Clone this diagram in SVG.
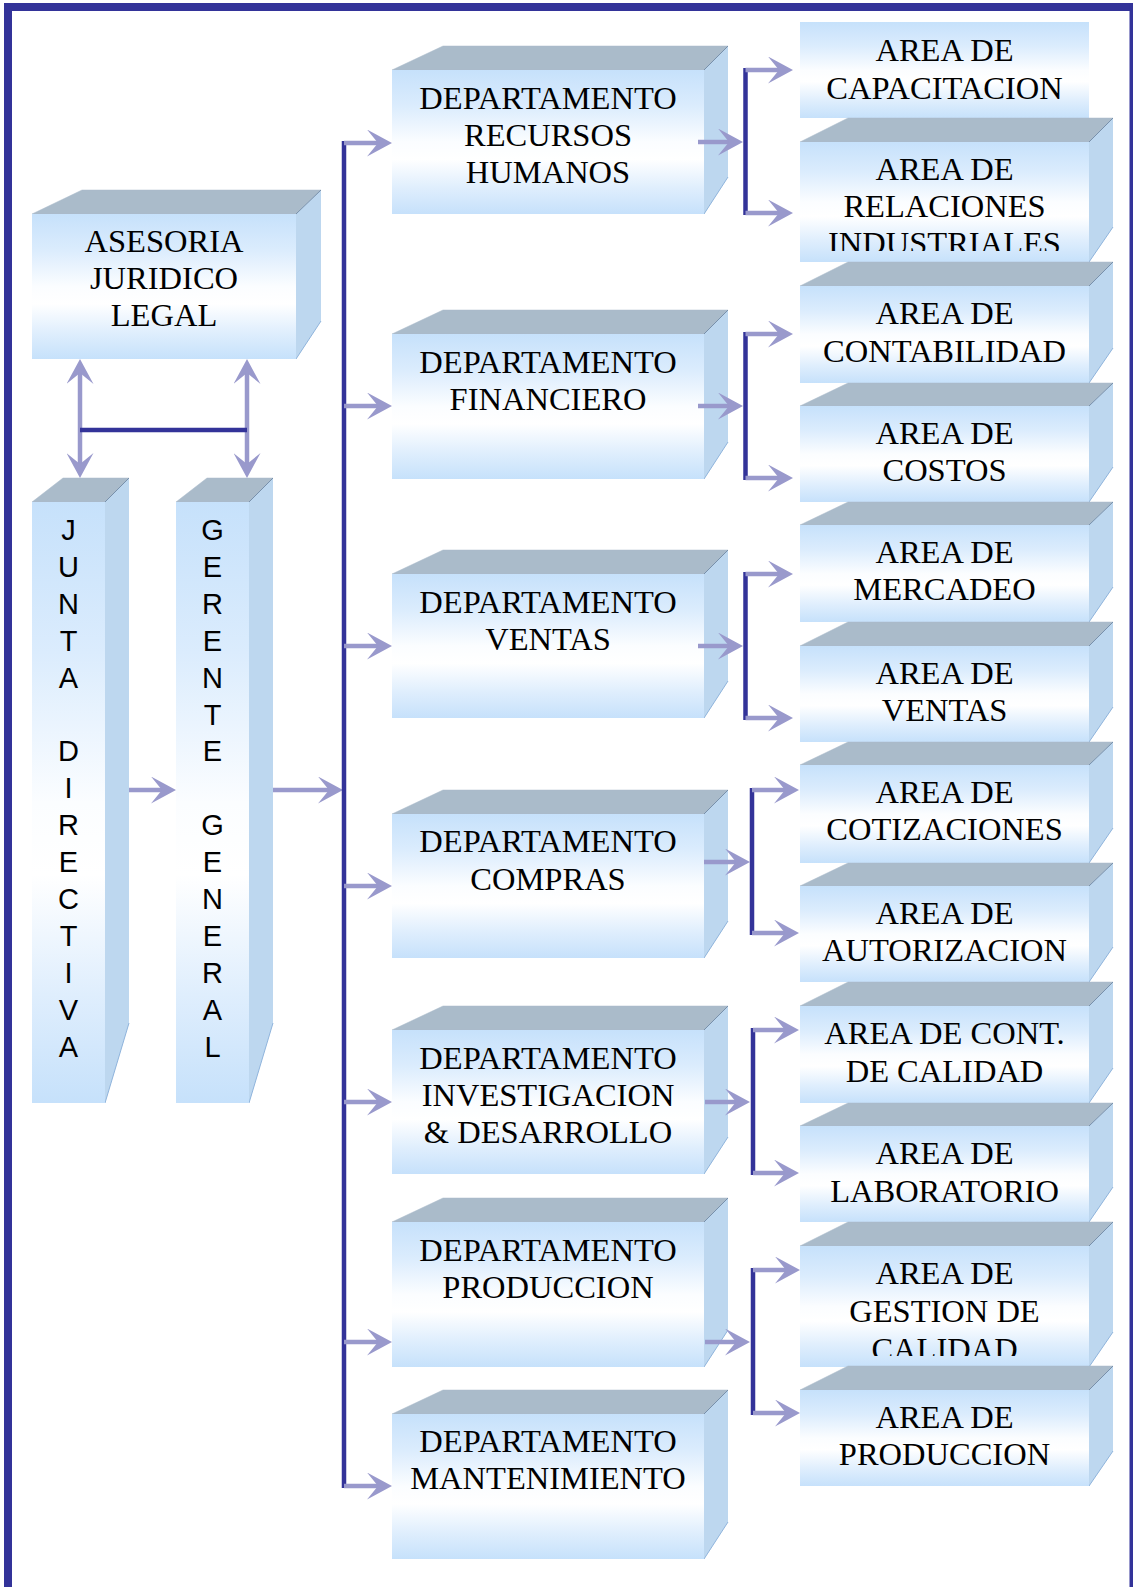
<svg xmlns="http://www.w3.org/2000/svg" width="1135" height="1587" viewBox="0 0 1135 1587">
<style>
.front{fill:url(#fg)}
.top{fill:#aabbca;stroke:#aabbca;stroke-width:0.5}
.edge{stroke:#7890ab;stroke-width:1;fill:none}
.side{fill:#bdd7ef}
.slant{stroke:#8fb4dc;stroke-width:1;fill:none}
.t{font-family:"Liberation Serif","Times New Roman",serif;font-size:32.5px;fill:#000;text-anchor:middle}
.v{font-family:"Liberation Sans",Arial,sans-serif;font-size:29px;fill:#000;text-anchor:middle}
.dk{stroke:#333399;stroke-width:4.5;fill:none}
.lv{stroke:#9999cc;stroke-width:4.5;fill:none}
.ar{stroke:#9999cc;stroke-width:4.5;fill:none;marker-end:url(#ah)}
.ar2{stroke:#9999cc;stroke-width:4.5;fill:none;marker-start:url(#ah);marker-end:url(#ah)}
</style>
<defs>
<linearGradient id="fg" x1="0" y1="0" x2="0" y2="1">
<stop offset="0" stop-color="#c6e1fb"/>
<stop offset="0.25" stop-color="#dbecfd"/>
<stop offset="0.5" stop-color="#fbfdff"/>
<stop offset="0.62" stop-color="#ffffff"/>
<stop offset="0.82" stop-color="#dfeefd"/>
<stop offset="1" stop-color="#c6e1fb"/>
</linearGradient>
<marker id="ah" viewBox="0 0 25 27" markerWidth="25" markerHeight="27" markerUnits="userSpaceOnUse" refX="12" refY="13.5" orient="auto-start-reverse">
<path d="M0,0 L25,13.5 L0,27 L11,13.5 Z" fill="#9999cc"/>
</marker>
<clipPath id="relClip"><rect x="800" y="142" width="289" height="109"/></clipPath>
<clipPath id="gestClip"><rect x="800" y="1246" width="289" height="110"/></clipPath>
</defs>
<rect x="0" y="0" width="1135" height="1587" fill="#ffffff"/>
<g id="frame" fill="#333399">
<rect x="4" y="3" width="8" height="1584"/>
<rect x="4" y="3" width="1129" height="8"/>
<rect x="1129.5" y="3" width="3.5" height="1584"/>
</g>

<g id="asesoria">
<polygon class="top" points="32,214 82,190 321,190 296,214"/>
<polygon class="side" points="296,214 321,190 321,321 296,359"/>
<line class="edge" x1="296" y1="214" x2="321" y2="190"/>
<line class="slant" x1="321" y1="321" x2="296" y2="359"/>
<rect class="front" x="32" y="214" width="264" height="145"/>
<text class="t"><tspan x="164" y="252">ASESORIA</tspan><tspan x="164" y="289">JURIDICO</tspan><tspan x="164" y="326">LEGAL</tspan></text>
</g>

<g id="junta">
<polygon class="top" points="32,502 63,478 129,478 105,502"/>
<polygon class="side" points="105,502 129,478 129,1023 105,1103"/>
<line class="edge" x1="105" y1="502" x2="129" y2="478"/>
<line class="slant" x1="129" y1="1023" x2="105" y2="1103"/>
<rect class="front" x="32" y="502" width="73" height="601"/>
<text class="v"><tspan x="68.5" y="540">J</tspan><tspan x="68.5" y="576.9">U</tspan><tspan x="68.5" y="613.8">N</tspan><tspan x="68.5" y="650.7">T</tspan><tspan x="68.5" y="687.6">A</tspan><tspan x="68.5" y="761.4">D</tspan><tspan x="68.5" y="798.3">I</tspan><tspan x="68.5" y="835.2">R</tspan><tspan x="68.5" y="872.1">E</tspan><tspan x="68.5" y="909">C</tspan><tspan x="68.5" y="945.9">T</tspan><tspan x="68.5" y="982.8">I</tspan><tspan x="68.5" y="1019.7">V</tspan><tspan x="68.5" y="1056.6">A</tspan></text>
</g>

<g id="gerente">
<polygon class="top" points="176,502 207,478 273,478 249,502"/>
<polygon class="side" points="249,502 273,478 273,1023 249,1103"/>
<line class="edge" x1="249" y1="502" x2="273" y2="478"/>
<line class="slant" x1="273" y1="1023" x2="249" y2="1103"/>
<rect class="front" x="176" y="502" width="73" height="601"/>
<text class="v"><tspan x="212.5" y="540">G</tspan><tspan x="212.5" y="576.9">E</tspan><tspan x="212.5" y="613.8">R</tspan><tspan x="212.5" y="650.7">E</tspan><tspan x="212.5" y="687.6">N</tspan><tspan x="212.5" y="724.5">T</tspan><tspan x="212.5" y="761.4">E</tspan><tspan x="212.5" y="835.2">G</tspan><tspan x="212.5" y="872.1">E</tspan><tspan x="212.5" y="909">N</tspan><tspan x="212.5" y="945.9">E</tspan><tspan x="212.5" y="982.8">R</tspan><tspan x="212.5" y="1019.7">A</tspan><tspan x="212.5" y="1056.6">L</tspan></text>
</g>

<g id="dep-rrhh">
<polygon class="top" points="392,70 443,46 728,46 704,70"/>
<polygon class="side" points="704,70 728,46 728,177 704,214"/>
<line class="edge" x1="704" y1="70" x2="728" y2="46"/>
<line class="slant" x1="728" y1="177" x2="704" y2="214"/>
<rect class="front" x="392" y="70" width="312" height="144"/>
<text class="t"><tspan x="548" y="109">DEPARTAMENTO</tspan><tspan x="548" y="146">RECURSOS</tspan><tspan x="548" y="183">HUMANOS</tspan></text>
</g>

<g id="dep-financiero">
<polygon class="top" points="392,334 443,310 728,310 704,334"/>
<polygon class="side" points="704,334 728,310 728,442 704,479"/>
<line class="edge" x1="704" y1="334" x2="728" y2="310"/>
<line class="slant" x1="728" y1="442" x2="704" y2="479"/>
<rect class="front" x="392" y="334" width="312" height="145"/>
<text class="t"><tspan x="548" y="373">DEPARTAMENTO</tspan><tspan x="548" y="410">FINANCIERO</tspan></text>
</g>

<g id="dep-ventas">
<polygon class="top" points="392,574 443,550 728,550 704,574"/>
<polygon class="side" points="704,574 728,550 728,681 704,718"/>
<line class="edge" x1="704" y1="574" x2="728" y2="550"/>
<line class="slant" x1="728" y1="681" x2="704" y2="718"/>
<rect class="front" x="392" y="574" width="312" height="144"/>
<text class="t"><tspan x="548" y="613">DEPARTAMENTO</tspan><tspan x="548" y="650">VENTAS</tspan></text>
</g>

<g id="dep-compras">
<polygon class="top" points="392,814 443,790 728,790 704,814"/>
<polygon class="side" points="704,814 728,790 728,921 704,958"/>
<line class="edge" x1="704" y1="814" x2="728" y2="790"/>
<line class="slant" x1="728" y1="921" x2="704" y2="958"/>
<rect class="front" x="392" y="814" width="312" height="144"/>
<text class="t"><tspan x="548" y="852">DEPARTAMENTO</tspan><tspan x="548" y="890">COMPRAS</tspan></text>
</g>

<g id="dep-id">
<polygon class="top" points="392,1030 443,1006 728,1006 704,1030"/>
<polygon class="side" points="704,1030 728,1006 728,1137 704,1174"/>
<line class="edge" x1="704" y1="1030" x2="728" y2="1006"/>
<line class="slant" x1="728" y1="1137" x2="704" y2="1174"/>
<rect class="front" x="392" y="1030" width="312" height="144"/>
<text class="t"><tspan x="548" y="1069">DEPARTAMENTO</tspan><tspan x="548" y="1106">INVESTIGACION</tspan><tspan x="548" y="1143">&amp; DESARROLLO</tspan></text>
</g>

<g id="dep-produccion">
<polygon class="top" points="392,1222 443,1198 728,1198 704,1222"/>
<polygon class="side" points="704,1222 728,1198 728,1330 704,1367"/>
<line class="edge" x1="704" y1="1222" x2="728" y2="1198"/>
<line class="slant" x1="728" y1="1330" x2="704" y2="1367"/>
<rect class="front" x="392" y="1222" width="312" height="145"/>
<text class="t"><tspan x="548" y="1261">DEPARTAMENTO</tspan><tspan x="548" y="1298">PRODUCCION</tspan></text>
</g>

<g id="dep-mantenimiento">
<polygon class="top" points="392,1414 443,1390 728,1390 704,1414"/>
<polygon class="side" points="704,1414 728,1390 728,1522 704,1559"/>
<line class="edge" x1="704" y1="1414" x2="728" y2="1390"/>
<line class="slant" x1="728" y1="1522" x2="704" y2="1559"/>
<rect class="front" x="392" y="1414" width="312" height="145"/>
<text class="t"><tspan x="548" y="1452">DEPARTAMENTO</tspan><tspan x="548" y="1489">MANTENIMIENTO</tspan></text>
</g>

<g id="area-capacitacion">
<rect class="front" x="800" y="22" width="289" height="96"/>
<text class="t"><tspan x="944.5" y="61">AREA DE</tspan><tspan x="944.5" y="99">CAPACITACION</tspan></text>
</g>

<g id="area-relaciones">
<polygon class="top" points="800,142 848,118 1113,118 1089,142"/>
<polygon class="side" points="1089,142 1113,118 1113,227 1089,262"/>
<line class="edge" x1="1089" y1="142" x2="1113" y2="118"/>
<line class="slant" x1="1113" y1="227" x2="1089" y2="262"/>
<rect class="front" x="800" y="142" width="289" height="120"/>
<text class="t" clip-path="url(#relClip)"><tspan x="944.5" y="180">AREA DE</tspan><tspan x="944.5" y="217">RELACIONES</tspan><tspan x="944.5" y="254">INDUSTRIALES</tspan></text>
</g>

<g id="area-contabilidad">
<polygon class="top" points="800,286 848,262 1113,262 1089,286"/>
<polygon class="side" points="1089,286 1113,262 1113,348 1089,383"/>
<line class="edge" x1="1089" y1="286" x2="1113" y2="262"/>
<line class="slant" x1="1113" y1="348" x2="1089" y2="383"/>
<rect class="front" x="800" y="286" width="289" height="97"/>
<text class="t"><tspan x="944.5" y="324">AREA DE</tspan><tspan x="944.5" y="362">CONTABILIDAD</tspan></text>
</g>

<g id="area-costos">
<polygon class="top" points="800,406 848,383 1113,383 1089,406"/>
<polygon class="side" points="1089,406 1113,383 1113,467 1089,502"/>
<line class="edge" x1="1089" y1="406" x2="1113" y2="383"/>
<line class="slant" x1="1113" y1="467" x2="1089" y2="502"/>
<rect class="front" x="800" y="406" width="289" height="96"/>
<text class="t"><tspan x="944.5" y="444">AREA DE</tspan><tspan x="944.5" y="481">COSTOS</tspan></text>
</g>

<g id="area-mercadeo">
<polygon class="top" points="800,525 848,502 1113,502 1089,525"/>
<polygon class="side" points="1089,525 1113,502 1113,587 1089,622"/>
<line class="edge" x1="1089" y1="525" x2="1113" y2="502"/>
<line class="slant" x1="1113" y1="587" x2="1089" y2="622"/>
<rect class="front" x="800" y="525" width="289" height="97"/>
<text class="t"><tspan x="944.5" y="563">AREA DE</tspan><tspan x="944.5" y="600">MERCADEO</tspan></text>
</g>

<g id="area-ventas">
<polygon class="top" points="800,646 848,622 1113,622 1089,646"/>
<polygon class="side" points="1089,646 1113,622 1113,707 1089,742"/>
<line class="edge" x1="1089" y1="646" x2="1113" y2="622"/>
<line class="slant" x1="1113" y1="707" x2="1089" y2="742"/>
<rect class="front" x="800" y="646" width="289" height="96"/>
<text class="t"><tspan x="944.5" y="684">AREA DE</tspan><tspan x="944.5" y="721">VENTAS</tspan></text>
</g>

<g id="area-cotizaciones">
<polygon class="top" points="800,765 848,742 1113,742 1089,765"/>
<polygon class="side" points="1089,765 1113,742 1113,828 1089,863"/>
<line class="edge" x1="1089" y1="765" x2="1113" y2="742"/>
<line class="slant" x1="1113" y1="828" x2="1089" y2="863"/>
<rect class="front" x="800" y="765" width="289" height="98"/>
<text class="t"><tspan x="944.5" y="803">AREA DE</tspan><tspan x="944.5" y="840">COTIZACIONES</tspan></text>
</g>

<g id="area-autorizacion">
<polygon class="top" points="800,886 848,863 1113,863 1089,886"/>
<polygon class="side" points="1089,886 1113,863 1113,947 1089,982"/>
<line class="edge" x1="1089" y1="886" x2="1113" y2="863"/>
<line class="slant" x1="1113" y1="947" x2="1089" y2="982"/>
<rect class="front" x="800" y="886" width="289" height="96"/>
<text class="t"><tspan x="944.5" y="924">AREA DE</tspan><tspan x="944.5" y="961">AUTORIZACION</tspan></text>
</g>

<g id="area-control-calidad">
<polygon class="top" points="800,1006 848,982 1113,982 1089,1006"/>
<polygon class="side" points="1089,1006 1113,982 1113,1068 1089,1103"/>
<line class="edge" x1="1089" y1="1006" x2="1113" y2="982"/>
<line class="slant" x1="1113" y1="1068" x2="1089" y2="1103"/>
<rect class="front" x="800" y="1006" width="289" height="97"/>
<text class="t"><tspan x="944.5" y="1044">AREA DE CONT.</tspan><tspan x="944.5" y="1082">DE CALIDAD</tspan></text>
</g>

<g id="area-laboratorio">
<polygon class="top" points="800,1126 848,1103 1113,1103 1089,1126"/>
<polygon class="side" points="1089,1126 1113,1103 1113,1187 1089,1222"/>
<line class="edge" x1="1089" y1="1126" x2="1113" y2="1103"/>
<line class="slant" x1="1113" y1="1187" x2="1089" y2="1222"/>
<rect class="front" x="800" y="1126" width="289" height="96"/>
<text class="t"><tspan x="944.5" y="1164">AREA DE</tspan><tspan x="944.5" y="1202">LABORATORIO</tspan></text>
</g>

<g id="area-gestion-calidad">
<polygon class="top" points="800,1246 848,1222 1113,1222 1089,1246"/>
<polygon class="side" points="1089,1246 1113,1222 1113,1332 1089,1367"/>
<line class="edge" x1="1089" y1="1246" x2="1113" y2="1222"/>
<line class="slant" x1="1113" y1="1332" x2="1089" y2="1367"/>
<rect class="front" x="800" y="1246" width="289" height="121"/>
<text class="t" clip-path="url(#gestClip)"><tspan x="944.5" y="1284">AREA DE</tspan><tspan x="944.5" y="1322">GESTION DE</tspan><tspan x="944.5" y="1360">CALIDAD</tspan></text>
</g>

<g id="area-produccion">
<polygon class="top" points="800,1390 848,1366 1113,1366 1089,1390"/>
<polygon class="side" points="1089,1390 1113,1366 1113,1451 1089,1486"/>
<line class="edge" x1="1089" y1="1390" x2="1113" y2="1366"/>
<line class="slant" x1="1113" y1="1451" x2="1089" y2="1486"/>
<rect class="front" x="800" y="1390" width="289" height="96"/>
<text class="t"><tspan x="944.5" y="1428">AREA DE</tspan><tspan x="944.5" y="1465">PRODUCCION</tspan></text>
</g>

<g id="connectors">
<line class="ar2" x1="80" y1="372" x2="80" y2="465"/>
<line class="ar2" x1="247" y1="372" x2="247" y2="465"/>
<line class="dk" x1="80" y1="430" x2="247" y2="430"/>
<line class="ar" x1="129" y1="790" x2="163" y2="790"/>
<line class="ar" x1="273" y1="790" x2="330" y2="790"/>
<line class="dk" x1="344" y1="141" x2="344" y2="1488"/>
<line class="ar" x1="344" y1="143" x2="379" y2="143"/>
<line class="ar" x1="344" y1="406" x2="379" y2="406"/>
<line class="ar" x1="344" y1="646" x2="379" y2="646"/>
<line class="ar" x1="344" y1="886" x2="379" y2="886"/>
<line class="ar" x1="344" y1="1102" x2="379" y2="1102"/>
<line class="ar" x1="344" y1="1342" x2="379" y2="1342"/>
<line class="ar" x1="344" y1="1486" x2="379" y2="1486"/>
<line class="ar" x1="698" y1="142" x2="730" y2="142"/>
<line class="dk" x1="745.5" y1="68" x2="745.5" y2="215"/>
<line class="ar" x1="745.5" y1="70" x2="780" y2="70"/>
<line class="ar" x1="745.5" y1="213" x2="780" y2="213"/>
<line class="ar" x1="698" y1="406" x2="730" y2="406"/>
<line class="dk" x1="745.5" y1="332" x2="745.5" y2="480"/>
<line class="ar" x1="745.5" y1="334" x2="780" y2="334"/>
<line class="ar" x1="745.5" y1="478" x2="780" y2="478"/>
<line class="ar" x1="698" y1="646" x2="730" y2="646"/>
<line class="dk" x1="745.5" y1="572" x2="745.5" y2="720"/>
<line class="ar" x1="745.5" y1="574" x2="780" y2="574"/>
<line class="ar" x1="745.5" y1="718" x2="780" y2="718"/>
<line class="ar" x1="704" y1="862" x2="737" y2="862"/>
<line class="dk" x1="752" y1="788" x2="752" y2="935"/>
<line class="ar" x1="752" y1="790" x2="786" y2="790"/>
<line class="ar" x1="752" y1="933" x2="786" y2="933"/>
<line class="ar" x1="705" y1="1102" x2="737" y2="1102"/>
<line class="dk" x1="753" y1="1028" x2="753" y2="1175"/>
<line class="ar" x1="753" y1="1030" x2="786" y2="1030"/>
<line class="ar" x1="753" y1="1173" x2="786" y2="1173"/>
<line class="ar" x1="705" y1="1342" x2="737" y2="1342"/>
<line class="dk" x1="753" y1="1268" x2="753" y2="1415"/>
<line class="ar" x1="753" y1="1270" x2="787" y2="1270"/>
<line class="ar" x1="753" y1="1413" x2="787" y2="1413"/>
</g>
</svg>
